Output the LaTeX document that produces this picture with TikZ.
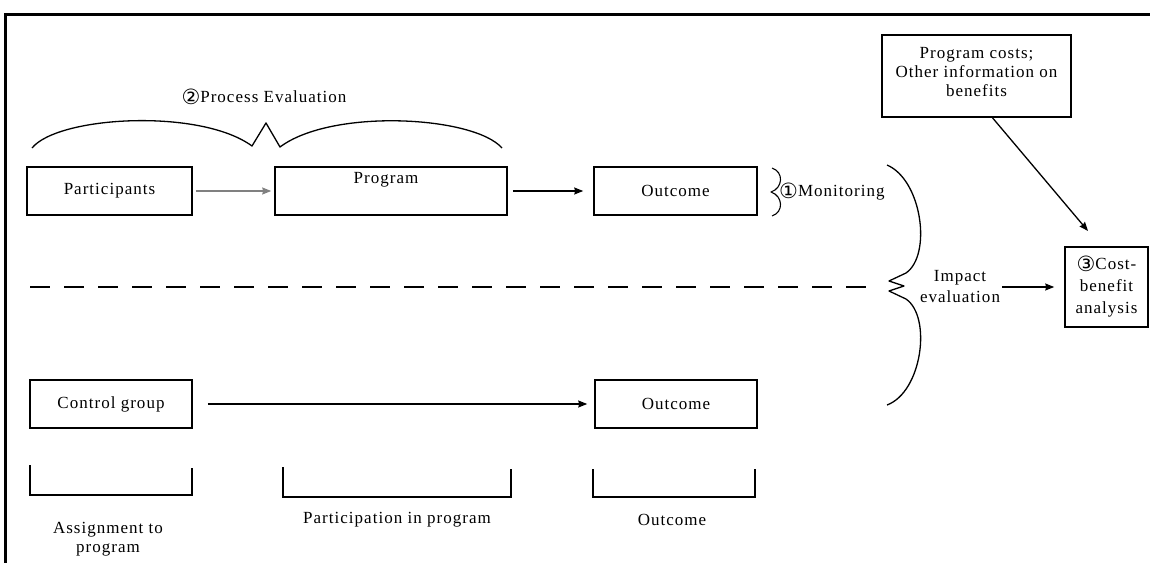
\documentclass[tikz,border=0pt]{standalone}
\usepackage{fontspec}
\setmainfont[LetterSpace=6]{Liberation Serif}
\newfontfamily\circfont{DejaVu Sans}
\usetikzlibrary{arrows.meta}
\newcommand\diagfont{\fontsize{17}{19}\selectfont}
\newcommand\circnum[1]{\raisebox{-2pt}{\fontsize{21}{21}\selectfont\circfont #1}}
\begin{document}
\begin{tikzpicture}[x=1pt,y=-1pt,
  box/.style={draw, line width=1.6pt, inner sep=0pt, font=\diagfont, align=center},
  txt/.style={inner sep=0pt, font=\diagfont, align=center},
  conn/.style={line width=1.3pt, -{Stealth[length=9pt,width=7pt,inset=1pt]}},
  curve/.style={line width=1.3pt, line join=round},
  bracket/.style={line width=1.5pt},
]
\useasboundingbox (0,0) rectangle (1150,563);
\fill[white] (0,0) rectangle (1150,563);
\draw[line width=3pt] (1150,14) -- (5,14) -- (5,563);

% boxes
\node[box, minimum width=165pt, minimum height=48pt] (part) at (109.5,191) {Participants};
\node[box, minimum width=232pt, minimum height=48pt] (prog) at (391,191) {};
\node[txt] (progtxt) at (386,180) {Program};
\node[box, minimum width=163pt, minimum height=48pt] (out1) at (675.5,191) {Outcome};
\node[box, minimum width=162pt, minimum height=48pt] (ctrl) at (111,404) {Control group};
\node[box, minimum width=162pt, minimum height=48pt] (out2) at (676,404) {Outcome};
\node[box, minimum width=189pt, minimum height=82pt] (pc) at (976.5,76) {};
\node[txt] (pctxt) at (976.5,72) {Program costs;\\Other information on\\benefits};
\node[box, minimum width=83pt, minimum height=80pt, font=\fontsize{17}{22}\selectfont] (cba) at (1106.5,287) {\circnum{③}Cost-\\benefit\\analysis};

% labels
\node[txt] (pe) at (264,97) {\circnum{②}Process Evaluation};
\node[txt, anchor=west] (mon) at (779,192) {\circnum{①}Monitoring};
\node[txt, font=\fontsize{17}{21}\selectfont] (imp) at (960,287) {Impact\\evaluation};
\node[txt] (asg) at (108,539) {Assignment to\\program};
\node[txt] (pip) at (397,520) {Participation in program};
\node[txt] (outl) at (672,520) {Outcome};

% connectors
\draw[conn, gray, shorten <=3pt, shorten >=3pt] (part.east) -- (prog.west);
\draw[conn, shorten <=5pt, shorten >=10pt] (prog.east) -- (out1.west);
\draw[conn, shorten <=15pt, shorten >=7pt] (ctrl.east) -- (out2.west);
\coordinate (pcend) at (1088,231);
\draw[conn] ([xshift=16pt]pc.south) -- (pcend);
\draw[conn, shorten <=2pt, shorten >=10pt] (imp.east) -- (cba.west);

% dashed separator
\draw[line width=1.5pt, dash pattern=on 20pt off 14pt] (30,287) -- (876,287);

% process evaluation brace
\draw[curve] (32,148) .. controls (58,116) and (200,108) .. (252,146) -- (266,123) -- (280,147)
  .. controls (332,108) and (474,116) .. (502,148);

% impact evaluation brace
\draw[curve] (887,165) .. controls (922,180) and (932,255) .. (906,273) -- (889,281) -- (904,286)
  -- (889,291) -- (906,299) .. controls (932,317) and (922,392) .. (887,405);

% monitoring brace
\draw[curve, line width=1.1pt] (772,168) .. controls (784,172) and (783,188) .. (771,192)
  .. controls (783,196) and (784,212) .. (772,216);

% bottom brackets
\draw[bracket] (30,465) -- (30,495) -- (192,495) -- (192,468);
\draw[bracket] (283,467) -- (283,497) -- (511,497) -- (511,469);
\draw[bracket] (593,469) -- (593,497) -- (755,497) -- (755,469);
\end{tikzpicture}
\end{document}
